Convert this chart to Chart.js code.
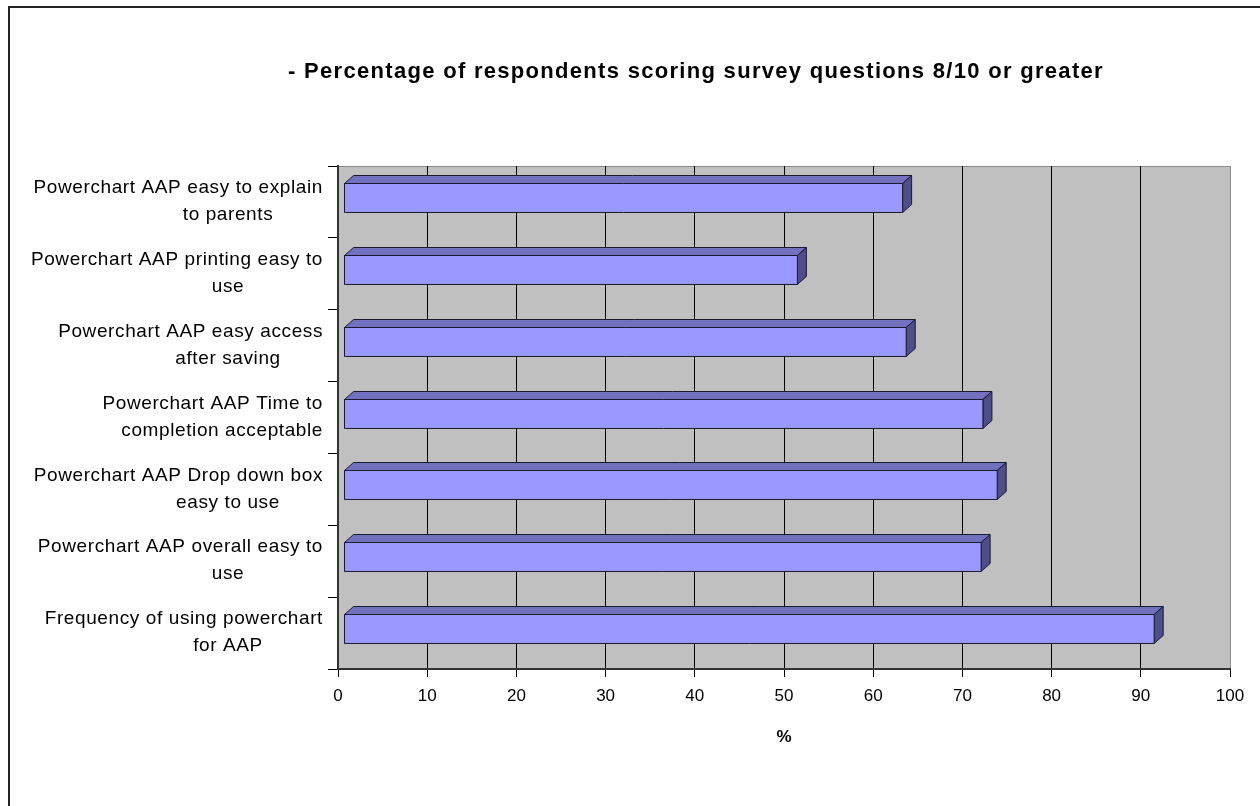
<!DOCTYPE html>
<html>
<head>
<meta charset="utf-8">
<script src="https://cdn.jsdelivr.net/npm/chart.js@4.4.1/dist/chart.umd.min.js"></script>
<style>
  html, body { margin: 0; padding: 0; background: #fff; }
  #wrap { width: 1260px; height: 806px; position: relative; }
</style>
</head>
<body>
<div id="wrap"><canvas id="c" width="1260" height="806"></canvas></div>
<script>
const chartTitle = "- Percentage of respondents scoring survey questions 8/10 or greater";
const axisTitle = "%";
const categories = [
  ["Powerchart AAP easy to explain", "to parents"],
  ["Powerchart AAP printing easy to", "use"],
  ["Powerchart AAP easy access", "after saving"],
  ["Powerchart AAP Time to", "completion acceptable"],
  ["Powerchart AAP Drop down box", "easy to use"],
  ["Powerchart AAP overall easy to", "use"],
  ["Frequency of using powerchart", "for AAP"]
];
const percentValues = [63.3, 51.5, 63.7, 72.3, 73.9, 72.1, 91.5];
const xTicks = [0, 10, 20, 30, 40, 50, 60, 70, 80, 90, 100];

const FONT = '"Liberation Sans", Arial, sans-serif';
const FRONT = '#9999FF', TOP = '#7171C0', SIDE = '#4E4E88', EDGE = '#1a1a2e';
const DX = 9, DY = 8, INSET = 6, SHIFT = 4.5;

const framePlugin = {
  id: 'frame',
  beforeDraw(chart) {
    const {ctx, chartArea: a} = chart;
    ctx.save();
    ctx.fillStyle = '#fff';
    ctx.fillRect(0, 0, chart.width, chart.height);
    ctx.strokeStyle = '#222';
    ctx.lineWidth = 2;
    ctx.beginPath();
    ctx.moveTo(9, chart.height + 5);
    ctx.lineTo(9, 7);
    ctx.lineTo(chart.width + 5, 7);
    ctx.stroke();
    ctx.fillStyle = '#C0C0C0';
    ctx.fillRect(a.left, a.top, a.right - a.left, a.bottom - a.top);
    ctx.strokeStyle = '#8a8a8a';
    ctx.lineWidth = 1;
    ctx.beginPath();
    ctx.moveTo(a.left, a.top + 0.5);
    ctx.lineTo(a.right, a.top + 0.5);
    ctx.stroke();
    ctx.fillStyle = '#000';
    ctx.font = 'bold 22px ' + FONT;
    ctx.letterSpacing = '1.3px';
    ctx.textAlign = 'center';
    ctx.textBaseline = 'middle';
    ctx.fillText(chartTitle, 696, 72);
    ctx.restore();
  },
  afterDraw(chart) {
    const {ctx} = chart;
    const ys = chart.scales.y;
    ctx.save();
    ctx.fillStyle = '#000';
    ctx.font = '19px ' + FONT;
    ctx.letterSpacing = '0.6px';
    ctx.textBaseline = 'middle';
    categories.forEach((lines, i) => {
      const c = ys.getPixelForValue(i);
      ctx.textAlign = 'right';
      ctx.fillText(lines[0], 323, c - 14);
      const w = ctx.measureText(lines[1]).width;
      const cx = Math.min(228, 323 - w / 2);
      ctx.textAlign = 'center';
      ctx.fillText(lines[1], cx, c + 13);
    });
    ctx.restore();
  }
};

const bars3d = {
  id: 'bars3d',
  afterDatasetsDraw(chart) {
    const {ctx} = chart;
    const meta = chart.getDatasetMeta(0);
    ctx.save();
    ctx.lineWidth = 1;
    ctx.strokeStyle = EDGE;
    meta.data.forEach(el => {
      const p = el.getProps(['x', 'y', 'base', 'height'], true);
      const left = p.base + INSET;
      const right = p.x;
      const top = Math.round(p.y - p.height / 2 - SHIFT) + 0.5;
      const bottom = top + p.height;
      ctx.fillStyle = TOP;
      ctx.beginPath();
      ctx.moveTo(left, top);
      ctx.lineTo(left + DX, top - DY);
      ctx.lineTo(right + DX, top - DY);
      ctx.lineTo(right, top);
      ctx.closePath();
      ctx.fill(); ctx.stroke();
      ctx.fillStyle = SIDE;
      ctx.beginPath();
      ctx.moveTo(right, top);
      ctx.lineTo(right + DX, top - DY);
      ctx.lineTo(right + DX, bottom - DY);
      ctx.lineTo(right, bottom);
      ctx.closePath();
      ctx.fill(); ctx.stroke();
      ctx.fillStyle = FRONT;
      ctx.beginPath();
      ctx.rect(left, top, right - left, p.height);
      ctx.fill(); ctx.stroke();
    });
    ctx.restore();
  }
};

new Chart(document.getElementById('c'), {
  type: 'bar',
  data: {
    labels: categories,
    datasets: [{
      data: percentValues,
      backgroundColor: 'rgba(0,0,0,0)',
      borderWidth: 0,
      barPercentage: 0.8,
      categoryPercentage: 0.504
    }]
  },
  options: {
    indexAxis: 'y',
    responsive: false,
    animation: false,
    events: [],
    layout: { padding: { top: 166, left: 0, right: 30, bottom: 0 } },
    plugins: { legend: { display: false }, title: { display: false }, tooltip: { enabled: false } },
    scales: {
      x: {
        min: 0, max: 100,
        afterFit(s) { s.height = 806 - 669; },
        afterBuildTicks(s) { s.ticks = xTicks.map(v => ({ value: v })); },
        border: { display: true, color: '#333', width: 2 },
        grid: {
          color: c => (c.tick && c.tick.value === 100) ? '#8a8a8a' : '#000',
          tickColor: '#000',
          lineWidth: 1,
          tickLength: 8,
          drawTicks: true
        },
        ticks: {
          color: '#000',
          padding: 9,
          maxRotation: 0,
          autoSkip: false,
          font: { family: FONT, size: 17 }
        },
        title: {
          display: true,
          text: axisTitle,
          color: '#000',
          font: { family: FONT, size: 17, weight: 'bold' },
          padding: { top: 0, bottom: 58 }
        }
      },
      y: {
        afterFit(s) { s.width = 338; },
        border: { display: true, color: '#333', width: 2 },
        grid: {
          drawOnChartArea: false,
          drawTicks: true,
          tickLength: 10,
          tickColor: '#000',
          offset: true
        },
        ticks: { display: false }
      }
    }
  },
  plugins: [framePlugin, bars3d]
});
</script>
</body>
</html>
